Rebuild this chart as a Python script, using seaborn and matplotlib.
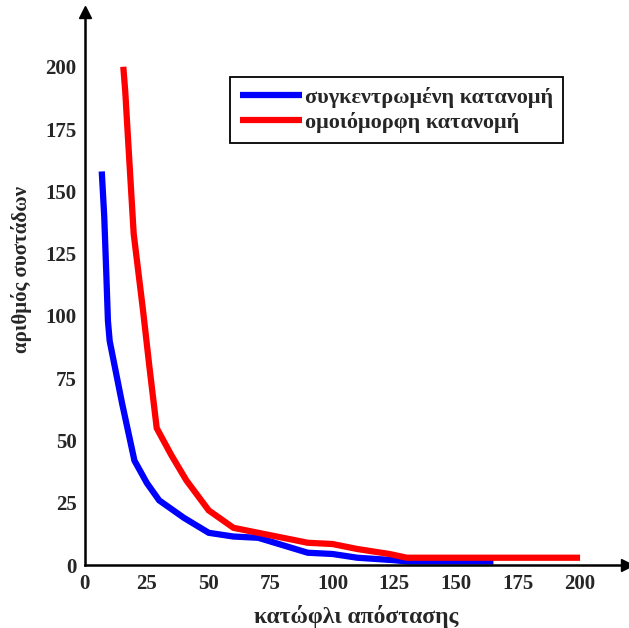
import numpy as np
import matplotlib
matplotlib.use("Agg")
import matplotlib.pyplot as plt
import pandas as pd
import seaborn as sns

# data
blue_x = [6.8, 7.8, 8.6, 9.3, 10, 15, 20, 25, 30, 40, 50, 60, 70, 80, 90, 100, 110, 125, 130, 165]
blue_y = [158, 140, 118, 98, 90, 65, 42, 33, 26, 19, 13, 11.5, 11, 8, 5, 4.5, 3, 2, 1.5, 1.5]
red_x = [15.5, 16.3, 17.3, 19.7, 23.5, 26, 29, 35, 41, 50, 60, 70, 80, 90, 100, 110, 123, 130, 200]
red_y = [200, 190, 173, 133, 102, 80, 55, 44, 34, 22, 15, 13, 11, 9, 8.5, 6.5, 4.5, 3, 3]
labels = ["συγκεντρωμένη κατανομή", "ομοιόμορφη κατανομή"]
ticks = [0, 25, 50, 75, 100, 125, 150, 175, 200]

df = pd.concat([
    pd.DataFrame({"x": blue_x, "y": blue_y, "series": labels[0]}),
    pd.DataFrame({"x": red_x, "y": red_y, "series": labels[1]}),
])

sns.set_style("white")
plt.rcParams["font.family"] = ["Liberation Serif", "DejaVu Serif"]
plt.rcParams["font.weight"] = "bold"

fig = plt.figure(figsize=(6.29, 6.28), dpi=100)
ax = fig.add_axes([0.135, 0.1, 0.862, 0.881])

sns.lineplot(data=df, x="x", y="y", hue="series", palette=["#0000ff", "#ff0000"],
             linewidth=4.5, sort=False, estimator=None, ax=ax,
             solid_capstyle="butt", solid_joinstyle="miter")

ax.set_xlim(0, 219)
ax.set_ylim(0, 222)
ax.set_xticks(ticks)
ax.set_yticks(ticks)
ax.tick_params(direction="in", length=4, width=1, labelsize=15, pad=6)
for t in ax.get_xticklabels() + ax.get_yticklabels():
    t.set_fontweight("bold")

for s in ["top", "right"]:
    ax.spines[s].set_visible(False)
for s in ["left", "bottom"]:
    ax.spines[s].set_linewidth(1.8)
    ax.spines[s].set_color("black")

# arrow heads at the ends of the axes
ax.plot(1, 0, ">k", markersize=9, transform=ax.get_yaxis_transform(), clip_on=False)
ax.plot(0, 1, "^k", markersize=9, transform=ax.get_xaxis_transform(), clip_on=False)

ax.set_xlabel("κατώφλι απόστασης", fontsize=17, fontweight="bold", labelpad=8)
ax.set_ylabel("αριθμός συστάδων", fontsize=15, fontweight="bold", labelpad=10)
ax.yaxis.set_label_coords(-0.097, 0.535)

leg = ax.legend(loc="upper left", bbox_to_anchor=(0.268, 0.883),
                handlelength=2.8, handletextpad=0.1, borderpad=0.45,
                labelspacing=0.2, fancybox=False, framealpha=1, title=None,
                borderaxespad=0, prop={"weight": "bold", "size": 16})
leg.get_frame().set_edgecolor("black")
leg.get_frame().set_linewidth(1.3)
for h in leg.get_lines():
    h.set_solid_capstyle("butt")

fig.savefig("out.png", dpi=100)
